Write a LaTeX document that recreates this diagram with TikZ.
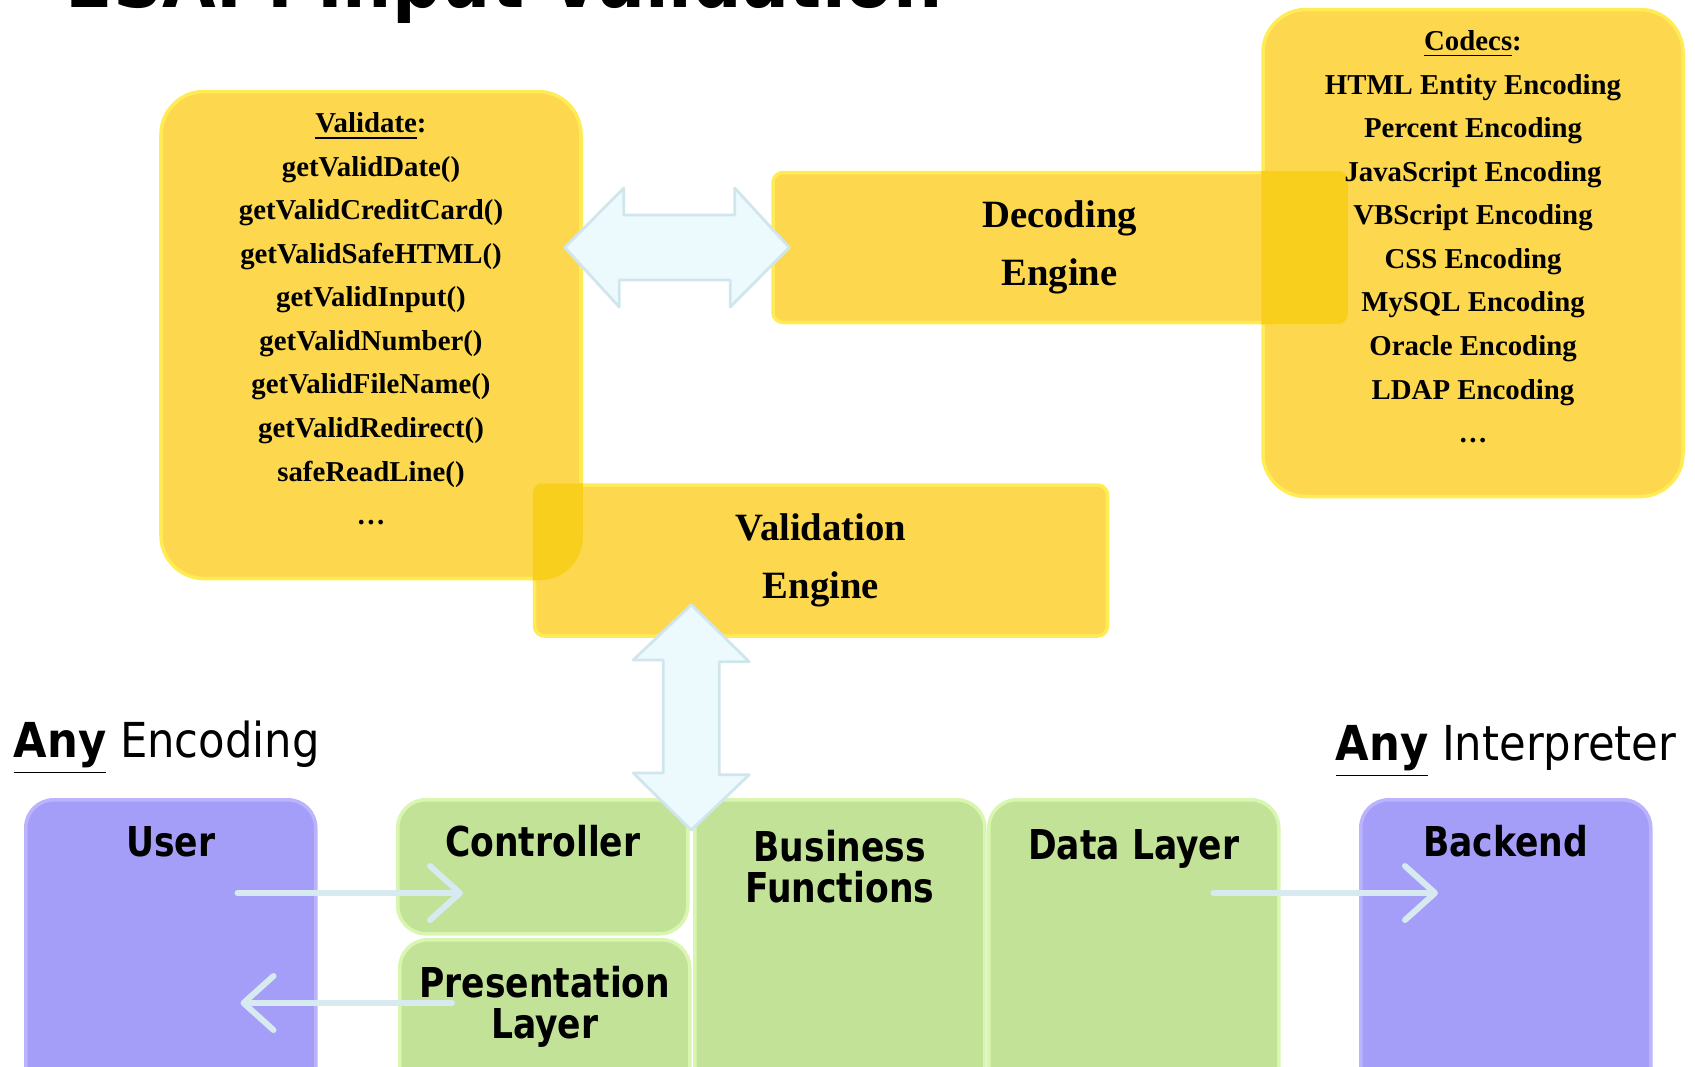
\documentclass[tikz,border=0pt]{standalone}
\usepackage{fontspec}
\setmainfont{Liberation Serif}
\newfontfamily\layerfont[FakeStretch=0.84]{DejaVu Sans}
\newfontfamily\hintfont[FakeStretch=0.9]{DejaVu Sans}
\usepackage{xcolor}
\usetikzlibrary{arrows.meta,positioning,calc}

\definecolor{gold}{HTML}{FDD84E}
\definecolor{goldedge}{HTML}{FFEC55}
\definecolor{golddeep}{HTML}{F9CF1E}
\definecolor{leaf}{HTML}{C2E298}
\definecolor{leafedge}{HTML}{D9F6B0}
\definecolor{lilac}{HTML}{A59EF9}
\definecolor{lilacedge}{HTML}{BBB4FD}
\definecolor{ice}{HTML}{ECFAFD}
\definecolor{iceedge}{HTML}{D0E6EC}
\definecolor{flowline}{HTML}{D6EAF0}

\begin{document}
\begin{tikzpicture}[
  x=0.1mm, y=-0.1mm,
  every node/.style={inner sep=0pt},
  codebox/.style={draw=goldedge, line width=1pt, fill=gold, rounded corners=4.3mm, minimum width=42mm, minimum height=48.7mm},
  engine/.style={draw=goldedge, line width=1pt, fill=gold, rounded corners=1mm, minimum width=57.3mm, minimum height=15mm, align=center, font=\bfseries\fontsize{11}{16.4}\selectfont},
  methods/.style={align=center, font=\bfseries\fontsize{8.2}{12.4}\selectfont},
  layer/.style={draw=leafedge, line width=1pt, fill=leaf, rounded corners=2.8mm, minimum width=29mm, anchor=north west},
  actor/.style={layer, draw=lilacedge, fill=lilac},
  layername/.style={align=center, font=\layerfont\bfseries\fontsize{11.7}{11.6}\selectfont},
  hint/.style={anchor=base west, font=\hintfont\fontsize{13.7}{14}\selectfont},
  fat/.style={fill=ice, draw=iceedge, line width=0.8pt, line join=round},
  flow/.style={draw=flowline, line width=0.6mm, line cap=round, -{Straight Barb[round, length=3mm, width=5.4mm]}}
]
\clip (0,0) rectangle (1695,1066);

\node[anchor=base west, font=\hintfont\bfseries\fontsize{21.9}{24}\selectfont] (title) at (65,7) {ESAPI Input Validation};

% method and codec lists
\node[codebox] (validate) at (371,335) {};
\node[codebox] (codecs) at (1473,253) {};
\node[engine] (decoding) at (1059.5,247.5) {Decoding\\Engine};
\node[engine, minimum height=15.1mm] (validation) at (821,560.5) {Validation\\Engine};

\begin{scope}
  \clip (codecs.north west) rectangle (codecs.south east);
  \fill[golddeep, rounded corners=1mm] (decoding.north west) rectangle (decoding.south east);
\end{scope}
\begin{scope}
  \clip[rounded corners=4.3mm] (validate.north west) rectangle (validate.south east);
  \fill[golddeep, rounded corners=1mm] (validation.north west) rectangle (validation.south east);
\end{scope}

\node[methods, below=2.2mm of validate.north] (validatelist) {\underline{Validate}:\\getValidDate()\\getValidCreditCard()\\getValidSafeHTML()\\getValidInput()\\getValidNumber()\\getValidFileName()\\getValidRedirect()\\safeReadLine()\\\ldots};
\node[methods, below=2.2mm of codecs.north] (codeclist) {\underline{Codecs}:\\HTML Entity Encoding\\Percent Encoding\\JavaScript Encoding\\VBScript Encoding\\CSS Encoding\\MySQL Encoding\\Oracle Encoding\\LDAP Encoding\\\ldots};

\coordinate (dl) at ([xshift=-1.8mm]validate.east |- decoding.west);
\coordinate (dr) at ([xshift=1.8mm]decoding.west);
\filldraw[fat] (dl) -- ++(59,-59.5) -- ++(0,27) -- ++(111,0) -- ++(0,-27) -- (dr)
  -- ++(-59,59.5) -- ++(0,-27) -- ++(-111,0) -- ++(0,27) -- cycle;

% application layers
\node[actor, minimum height=30mm] (user) at (24,798) {};
\node[layer, minimum height=13.4mm] (controller) at (396,798) {};
\node[layer, minimum height=16mm] (presentation) at (398,938) {};
\node[layer, minimum height=30mm] (business) at (693,798) {};
\node[layer, minimum height=30mm] (data) at (987,798) {};
\node[actor, minimum height=30mm] (backend) at (1359,798) {};

\node[layername, below=2.8mm of user.north] {User};
\node[layername, below=2.7mm of controller.north] {Controller};
\node[layername, below=2.8mm of presentation.north] {Presentation\\Layer};
\node[layername, below=3.2mm of business.north] {Business\\Functions};
\node[layername, below=3.1mm of data.north] {Data Layer};
\node[layername, below=2.7mm of backend.north] {Backend};

\coordinate (vb) at ([yshift=-3.2mm]$(controller.north east)!0.5!(business.north west)$);
\coordinate (vt) at ([yshift=3.3mm]validation.south -| vb);
\filldraw[fat] (vt) -- ++(58,57) -- ++(-30,0) -- ++(0,113) -- ++(30,0) -- (vb)
  -- ++(-58,-57) -- ++(30,0) -- ++(0,-113) -- ++(-30,0) -- cycle;

\draw[flow] ([shift={(-80,95)}]user.north east) -- ([shift={(67,95)}]controller.north west);
\draw[flow] ([shift={(54,65)}]presentation.north west) -- ([shift={(-77,205)}]user.north east);
\draw[flow] ([shift={(-67,95)}]data.north east) -- ([shift={(79,95)}]backend.north west);

\node[hint] (anyenc) at (13,757) {\textbf{\underline{Any}} Encoding};
\node[hint] (anyint) at (1335,760) {\textbf{\underline{Any}} Interpreter};
\end{tikzpicture}
\end{document}
